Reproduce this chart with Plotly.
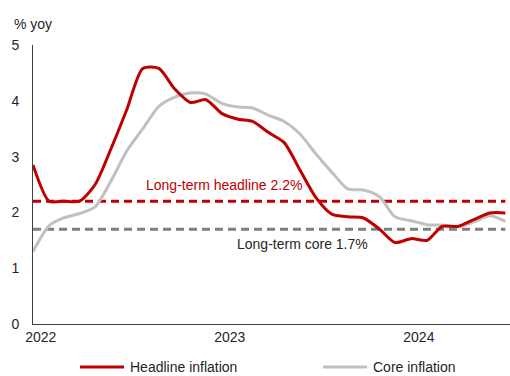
import plotly.graph_objects as go

# Monthly observations, Jan 2022 to Jul 2024 (% yoy)
dates = [f"{y}-{m:02d}-01" for y in (2022, 2023, 2024) for m in range(1, 13)][:31]
headline = [2.85, 2.2, 2.2, 2.2, 2.5, 3.15, 3.84, 4.58, 4.58, 4.22,
            3.97, 4.02, 3.77, 3.67, 3.63, 3.43, 3.25, 2.75, 2.27, 1.97,
            1.92, 1.9, 1.7, 1.46, 1.53, 1.5, 1.75, 1.75, 1.87, 1.99, 1.99]
core = [1.3, 1.76, 1.9, 1.98, 2.1, 2.57, 3.1, 3.5, 3.9, 4.06,
        4.14, 4.12, 3.95, 3.89, 3.87, 3.74, 3.63, 3.4, 3.05, 2.72,
        2.42, 2.4, 2.28, 1.92, 1.85, 1.78, 1.77, 1.74, 1.83, 1.94, 1.84]

lt_headline = 2.2
lt_core = 1.7

year_ticks = ["2022-01-16", "2023-01-16", "2024-01-16"]
year_labels = ["2022", "2023", "2024"]
y_ticks = [0, 1, 2, 3, 4, 5]

RED = "#c00000"
GREY = "#c0c0c0"
DARK_GREY = "#7f7f7f"
TEXT = "#262626"
FONT = "Liberation Sans, Arial, sans-serif"

fig = go.Figure()

fig.add_trace(go.Scatter(
    x=[dates[0], dates[-1]], y=[lt_core, lt_core], mode="lines",
    line=dict(color=DARK_GREY, width=3, dash="8px,5px"), hoverinfo="skip"))
fig.add_trace(go.Scatter(
    x=[dates[0], dates[-1]], y=[lt_headline, lt_headline], mode="lines",
    line=dict(color=RED, width=3, dash="8px,5px"), hoverinfo="skip"))
fig.add_trace(go.Scatter(
    x=dates, y=core, mode="lines", name="Core inflation",
    line=dict(color=GREY, width=3, shape="spline", smoothing=0.7)))
fig.add_trace(go.Scatter(
    x=dates, y=headline, mode="lines", name="Headline inflation",
    line=dict(color=RED, width=3, shape="spline", smoothing=0.7)))

fig.update_layout(
    width=510, height=376,
    margin=dict(l=33, r=0, t=45, b=52),
    paper_bgcolor="white", plot_bgcolor="white",
    showlegend=False,
    font=dict(family=FONT, size=14, color=TEXT),
    xaxis=dict(
        type="date", range=["2022-01-01", "2024-07-10"],
        tickvals=year_ticks, ticktext=year_labels,
        showgrid=False, zeroline=False, showline=True,
        linecolor="#404040", linewidth=1, ticks="",
        tickfont=dict(size=14, color=TEXT)),
    yaxis=dict(
        range=[0, 5], tickvals=y_ticks,
        showgrid=False, zeroline=False, showline=True,
        linecolor="#404040", linewidth=1, ticks="",
        ticklabelstandoff=10,
        tickfont=dict(size=14, color=TEXT)),
)

# Axis unit
fig.add_annotation(xref="paper", yref="paper", x=-0.043, y=1.077,
                   xanchor="left", yanchor="middle", showarrow=False,
                   text="% yoy", font=dict(size=14, color=TEXT))

# Reference line labels
fig.add_annotation(xref="paper", yref="paper", x=0.4, y=0.498,
                   xanchor="center", yanchor="middle", showarrow=False,
                   text=f"Long-term headline {lt_headline}%",
                   font=dict(size=14, color=RED))
fig.add_annotation(xref="paper", yref="paper", x=0.566, y=0.287,
                   xanchor="center", yanchor="middle", showarrow=False,
                   text=f"Long-term core {lt_core}%",
                   font=dict(size=14, color=TEXT))

# Legend drawn below the plot
leg_y = -0.154
for x0, x1, color, label in [(80, 124, RED, "Headline inflation"),
                             (323, 367, GREY, "Core inflation")]:
    fig.add_shape(type="line", xref="paper", yref="paper",
                  x0=(x0 - 33) / 477, x1=(x1 - 33) / 477, y0=leg_y, y1=leg_y,
                  line=dict(color=color, width=3))
    fig.add_annotation(xref="paper", yref="paper", x=(x1 + 4 - 33) / 477,
                       y=leg_y, xanchor="left", yanchor="middle",
                       showarrow=False, text=label,
                       font=dict(size=14, color=TEXT))

fig.write_html("out.html")
